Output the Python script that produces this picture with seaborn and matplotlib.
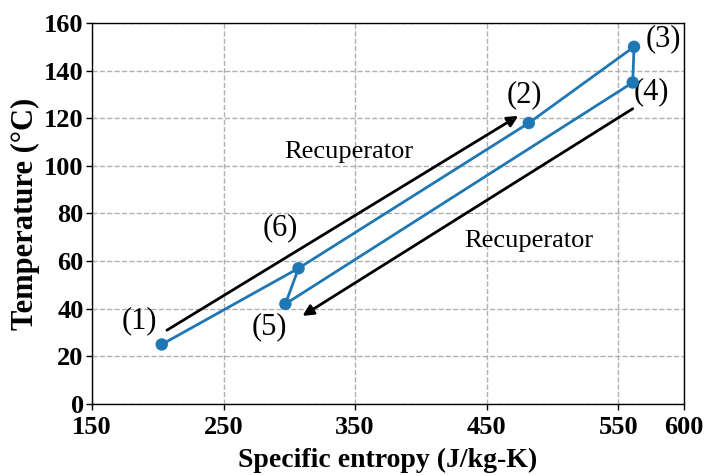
import matplotlib
matplotlib.use("Agg")
import matplotlib.pyplot as plt
import seaborn as sns
import pandas as pd

# Cycle state points (specific entropy J/kg-K, temperature °C)
state_labels = ["(1)", "(2)", "(3)", "(4)", "(5)", "(6)"]
entropy = [203, 482, 562, 561, 297, 307]
temperature = [25, 118, 150, 135, 42, 57]

# Order in which the states are joined by the process lines
path_order = [0, 5, 1, 2, 3, 4, 5]

# Label positions for each state
label_s = [186, 479, 584, 575, 285, 293]
label_t = [35, 130, 153.5, 131, 32.5, 74]

# Recuperator arrows (start -> end) and their captions
arrow_start = [(207, 31), (561, 124)]
arrow_end = [(474, 121), (310, 37)]
caption_text = ["Recuperator", "Recuperator"]
caption_pos = [(345, 106), (482, 68.5)]

x_ticks = [150, 250, 350, 450, 550, 600]
y_ticks = list(range(0, 161, 20))

sns.set_style("ticks")
plt.rcParams["font.family"] = ["Liberation Serif", "DejaVu Serif"]
plt.rcParams["mathtext.fontset"] = "stix"
for key in ("text.color", "axes.labelcolor", "xtick.color", "ytick.color"):
    plt.rcParams[key] = "black"

fig = plt.figure(figsize=(7.12, 4.75), dpi=100)
ax = fig.add_axes([0.1292, 0.1495, 0.8315, 0.8021])

path = pd.DataFrame({
    "s": [entropy[i] for i in path_order],
    "T": [temperature[i] for i in path_order],
})
pts = pd.DataFrame({"s": entropy, "T": temperature})

sns.lineplot(data=path, x="s", y="T", sort=False, estimator=None,
             color="#1f77b4", lw=2, ax=ax, zorder=3)
sns.scatterplot(data=pts, x="s", y="T", color="#1f77b4", s=80,
                edgecolor="none", ax=ax, zorder=4)

for lab, xs, yt in zip(state_labels, label_s, label_t):
    ax.text(xs, yt, lab, fontsize=22, ha="center", va="center")

for (x0, y0), (x1, y1) in zip(arrow_start, arrow_end):
    ax.annotate("", xy=(x1, y1), xytext=(x0, y0),
                arrowprops=dict(arrowstyle="-|>", color="black", lw=2,
                                mutation_scale=16, shrinkA=0, shrinkB=0))

for txt, (xs, yt) in zip(caption_text, caption_pos):
    ax.text(xs, yt, txt, fontsize=19, ha="center", va="center")

ax.set_xlim(150, 600)
ax.set_ylim(0, 160)
ax.set_xticks(x_ticks)
ax.set_yticks(y_ticks)
ax.grid(True, linestyle="--", color="#b0b0b0", lw=1)
ax.set_axisbelow(True)
for sp in ax.spines.values():
    sp.set_color("black")
    sp.set_linewidth(1)
ax.tick_params(labelsize=19, width=1, length=4, color="black")
ax.tick_params(axis="x", pad=5)
ax.tick_params(axis="y", pad=2)
for lbl in ax.get_xticklabels() + ax.get_yticklabels():
    lbl.set_fontweight("bold")

ax.set_xlabel("Specific entropy (J/kg-K)", fontsize=20, fontweight="bold", labelpad=6)
ax.set_ylabel("Temperature (°C)", fontsize=22, fontweight="bold", labelpad=3)

fig.savefig("out.png", dpi=100)
